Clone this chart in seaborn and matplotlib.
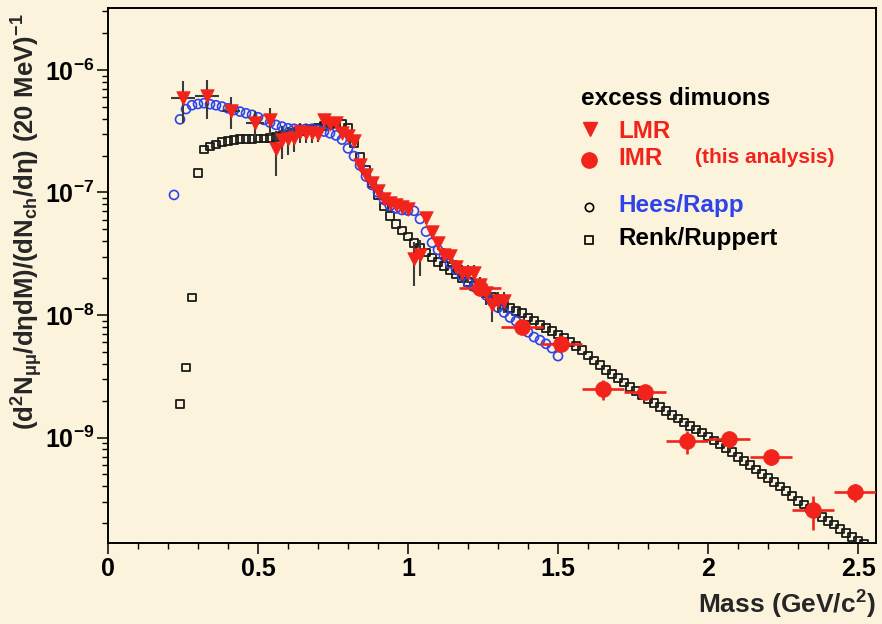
import matplotlib
matplotlib.use("Agg")
import matplotlib.pyplot as plt
import seaborn as sns
import pandas as pd
from matplotlib.ticker import FixedLocator, MultipleLocator, LogLocator, NullFormatter

# ---------------- data ----------------
lmr_mass = [0.25, 0.33, 0.41, 0.49, 0.54, 0.56, 0.58, 0.60, 0.62, 0.64, 0.66, 0.68, 0.70,
            0.72, 0.74, 0.76, 0.78, 0.80, 0.82, 0.84, 0.86, 0.88, 0.90, 0.92, 0.94, 0.96,
            0.98, 1.00, 1.02, 1.04, 1.06, 1.08, 1.10, 1.12, 1.14, 1.16, 1.18, 1.20, 1.22,
            1.24, 1.26, 1.28, 1.30, 1.32]
lmr_yield = [5.87e-7, 6.14e-7, 4.65e-7, 3.71e-7, 3.90e-7, 2.25e-7, 2.67e-7, 2.72e-7, 2.77e-7,
             3.12e-7, 3.08e-7, 3.04e-7, 3.00e-7, 3.91e-7, 3.62e-7, 3.72e-7, 3.08e-7, 2.89e-7,
             2.65e-7, 1.67e-7, 1.40e-7, 1.20e-7, 1.02e-7, 8.79e-8, 8.26e-8, 7.94e-8, 7.66e-8,
             7.30e-8, 2.84e-8, 3.10e-8, 6.17e-8, 4.79e-8, 3.85e-8, 3.09e-8, 3.03e-8, 2.48e-8,
             2.19e-8, 2.19e-8, 2.19e-8, 1.75e-8, 1.50e-8, 1.21e-8, 1.29e-8, 1.29e-8]
lmr_yerr = [2.2e-7, 2.2e-7, 1.35e-7, 0.9e-7, 1.0e-7, 0.9e-7, 0.8e-7, 0.7e-7, 0.65e-7, 0.6e-7,
            0.55e-7, 0.5e-7, 0.4e-7, 0.3e-7, 0.3e-7, 0.3e-7, 0.25e-7, 0.25e-7, 0.2e-7, 0.15e-7,
            0.12e-7, 1.0e-8, 0.9e-8, 0.8e-8, 0.8e-8, 0.8e-8, 0.8e-8, 0.8e-8, 1.1e-8, 1.0e-8,
            0.6e-8, 0.5e-8, 0.45e-8, 0.4e-8, 0.4e-8, 0.35e-8, 0.35e-8, 0.35e-8, 0.35e-8, 0.3e-8,
            0.3e-8, 0.33e-8, 0.25e-8, 0.25e-8]
lmr_xerr = [0.04, 0.04, 0.03, 0.03] + [0.0] * 40

imr_mass = [1.24, 1.38, 1.51, 1.65, 1.79, 1.93, 2.07, 2.21, 2.35, 2.49]
imr_yield = [1.65e-8, 8.0e-9, 5.83e-9, 2.49e-9, 2.37e-9, 9.35e-10, 9.7e-10, 6.9e-10, 2.56e-10, 3.6e-10]
imr_yerr = [1.5e-9, 7e-10, 5e-10, 4.5e-10, 3e-10, 2e-10, 1.5e-10, 9e-11, 8e-11, 6e-11]
imr_xerr = [0.07, 0.07, 0.07, 0.07, 0.07, 0.07, 0.07, 0.07, 0.07, 0.07]

hees_mass = [0.22, 0.24, 0.26, 0.28, 0.30, 0.32, 0.34, 0.36, 0.38, 0.40, 0.42, 0.44, 0.46,
             0.48, 0.50, 0.52, 0.54, 0.56, 0.58, 0.60, 0.62, 0.64, 0.66, 0.68, 0.70, 0.72,
             0.74, 0.76, 0.78, 0.80, 0.82, 0.84, 0.86, 0.88, 0.90, 0.92, 0.94, 0.96, 0.98,
             1.00, 1.02, 1.04, 1.06, 1.08, 1.10, 1.12, 1.14, 1.16, 1.18, 1.20, 1.22, 1.24,
             1.26, 1.28, 1.30, 1.32, 1.34, 1.36, 1.38, 1.40, 1.42, 1.44, 1.46, 1.48, 1.50]
hees_yield = [9.55e-8, 3.95e-7, 4.79e-7, 5.15e-7, 5.27e-7, 5.35e-7, 5.25e-7, 5.15e-7, 5.02e-7,
              4.86e-7, 4.71e-7, 4.57e-7, 4.43e-7, 4.30e-7, 4.11e-7, 3.91e-7, 3.72e-7, 3.56e-7,
              3.45e-7, 3.34e-7, 3.31e-7, 3.28e-7, 3.31e-7, 3.31e-7, 3.24e-7, 3.14e-7, 3.04e-7,
              2.92e-7, 2.70e-7, 2.29e-7, 1.98e-7, 1.66e-7, 1.35e-7, 1.15e-7, 1.00e-7, 8.71e-8,
              7.76e-8, 7.41e-8, 7.19e-8, 7.11e-8, 7.08e-8, 6.08e-8, 4.79e-8, 3.89e-8, 3.40e-8,
              3.02e-8, 2.64e-8, 2.34e-8, 2.09e-8, 1.84e-8, 1.70e-8, 1.58e-8, 1.45e-8, 1.29e-8,
              1.15e-8, 1.05e-8, 9.55e-9, 8.91e-9, 7.94e-9, 7.24e-9, 6.61e-9, 6.24e-9, 5.82e-9,
              5.37e-9, 4.62e-9]

renk_mass = [0.24, 0.26, 0.28, 0.30, 0.32, 0.34, 0.36, 0.38, 0.40, 0.42, 0.44, 0.46, 0.48,
             0.50, 0.52, 0.54, 0.56, 0.58, 0.60, 0.62, 0.64, 0.66, 0.68, 0.70, 0.72, 0.74,
             0.76, 0.78, 0.80, 0.82, 0.84, 0.86, 0.88, 0.90, 0.92, 0.94, 0.96, 0.98, 1.00,
             1.02, 1.04, 1.06, 1.08, 1.10, 1.12, 1.14, 1.16, 1.18, 1.20, 1.22, 1.24, 1.26,
             1.28, 1.30, 1.32, 1.34, 1.36, 1.38, 1.40, 1.42, 1.44, 1.46, 1.48, 1.50, 1.52,
             1.54, 1.56, 1.58, 1.60, 1.62, 1.64, 1.66, 1.68, 1.70, 1.72, 1.74, 1.76, 1.78,
             1.80, 1.82, 1.84, 1.86, 1.88, 1.90, 1.92, 1.94, 1.96, 1.98, 2.00, 2.02, 2.04,
             2.06, 2.08, 2.10, 2.12, 2.14, 2.16, 2.18, 2.20, 2.22, 2.24, 2.26, 2.28, 2.30,
             2.32, 2.34, 2.36, 2.38, 2.40, 2.42, 2.44, 2.46, 2.48, 2.50, 2.52, 2.54]
renk_yield = [1.87e-9, 3.74e-9, 1.39e-8, 1.44e-7, 2.25e-7, 2.37e-7, 2.47e-7, 2.57e-7, 2.63e-7, 2.69e-7,
              2.72e-7, 2.74e-7, 2.74e-7, 2.75e-7, 2.75e-7, 2.77e-7, 2.82e-7, 2.89e-7, 2.95e-7, 3.04e-7,
              3.14e-7, 3.20e-7, 3.28e-7, 3.38e-7, 3.49e-7, 3.61e-7, 3.67e-7, 3.62e-7, 3.39e-7, 2.51e-7,
              1.96e-7, 1.53e-7, 1.19e-7, 9.55e-8, 7.66e-8, 6.43e-8, 5.53e-8, 4.90e-8, 4.37e-8, 3.89e-8,
              3.55e-8, 3.24e-8, 2.95e-8, 2.72e-8, 2.51e-8, 2.33e-8, 2.16e-8, 2.00e-8, 1.86e-8, 1.72e-8,
              1.58e-8, 1.51e-8, 1.41e-8, 1.29e-8, 1.20e-8, 1.14e-8, 1.08e-8, 1.04e-8, 9.55e-9, 8.99e-9,
              8.32e-9, 7.85e-9, 7.41e-9, 6.92e-9, 6.46e-9, 6.03e-9, 5.62e-9, 5.19e-9, 4.68e-9, 4.27e-9,
              3.89e-9, 3.55e-9, 3.31e-9, 3.05e-9, 2.82e-9, 2.60e-9, 2.40e-9, 2.21e-9, 2.07e-9, 1.91e-9,
              1.78e-9, 1.65e-9, 1.53e-9, 1.43e-9, 1.33e-9, 1.24e-9, 1.16e-9, 1.10e-9, 1.02e-9, 9.44e-10,
              8.81e-10, 8.22e-10, 7.59e-10, 6.97e-10, 6.46e-10, 5.96e-10, 5.50e-10, 5.07e-10, 4.68e-10, 4.32e-10,
              3.98e-10, 3.67e-10, 3.35e-10, 3.05e-10, 2.85e-10, 2.63e-10, 2.43e-10, 2.25e-10, 2.09e-10, 1.95e-10,
              1.80e-10, 1.67e-10, 1.55e-10, 1.45e-10, 1.35e-10, 1.26e-10]

x_ticks = [0, 0.5, 1, 1.5, 2, 2.5]
x_tick_labels = ["0", "0.5", "1", "1.5", "2", "2.5"]
y_ticks = [1e-9, 1e-8, 1e-7, 1e-6]
y_tick_labels = [r"$\mathbf{10^{-9}}$", r"$\mathbf{10^{-8}}$", r"$\mathbf{10^{-7}}$", r"$\mathbf{10^{-6}}$"]

# ---------------- style ----------------
BG = "#FBF3DC"
RED = "#F2231B"
BLUE = "#2F43EA"

sns.set_theme(style="ticks")
plt.rcParams["font.family"] = ["Liberation Sans", "DejaVu Sans"]
plt.rcParams["font.weight"] = "bold"
plt.rcParams["mathtext.fontset"] = "custom"
plt.rcParams["mathtext.rm"] = "Liberation Sans:bold"
plt.rcParams["mathtext.it"] = "Liberation Sans:bold"
plt.rcParams["mathtext.bf"] = "Liberation Sans:bold"
plt.rcParams["mathtext.sf"] = "Liberation Sans:bold"

fig = plt.figure(figsize=(8.82, 6.24), dpi=100)
fig.patch.set_facecolor(BG)
ax = fig.add_axes([108 / 882, 81 / 624, 768 / 882, 535 / 624])
ax.set_facecolor(BG)
ax.set_yscale("log")

renk_df = pd.DataFrame({"mass": renk_mass, "yield": renk_yield})
hees_df = pd.DataFrame({"mass": hees_mass, "yield": hees_yield})
lmr_df = pd.DataFrame({"mass": lmr_mass, "yield": lmr_yield})
imr_df = pd.DataFrame({"mass": imr_mass, "yield": imr_yield})

sns.scatterplot(data=renk_df, x="mass", y="yield", ax=ax, marker="s", s=30,
                facecolor="none", edgecolor="#1a1a1a", linewidth=1.3, zorder=3, legend=False)
sns.scatterplot(data=hees_df, x="mass", y="yield", ax=ax, marker="o", s=42,
                facecolor="none", edgecolor=BLUE, linewidth=1.2, zorder=4, legend=False)

ax.errorbar(lmr_mass, lmr_yield, yerr=lmr_yerr, xerr=lmr_xerr, fmt="none",
            ecolor="#3a3a3a", elinewidth=1.5, capsize=0, zorder=5)
sns.scatterplot(data=lmr_df, x="mass", y="yield", ax=ax, marker="v", s=95,
                color=RED, edgecolor=RED, linewidth=0.5, zorder=6, legend=False)

ax.errorbar(imr_mass, imr_yield, yerr=imr_yerr, xerr=imr_xerr, fmt="none",
            ecolor=RED, elinewidth=1.9, capsize=0, zorder=7)
sns.scatterplot(data=imr_df, x="mass", y="yield", ax=ax, marker="o", s=130,
                color=RED, edgecolor=RED, linewidth=0.5, zorder=8, legend=False)

ax.set_xlim(0, 2.56)
ax.set_ylim(1.38e-10, 3.2e-6)

# axes / ticks
ax.xaxis.set_major_locator(FixedLocator(x_ticks))
ax.set_xticklabels(x_tick_labels)
ax.xaxis.set_minor_locator(MultipleLocator(0.1))
ax.yaxis.set_major_locator(FixedLocator(y_ticks))
ax.set_yticklabels(y_tick_labels)
ax.yaxis.set_minor_locator(LogLocator(base=10, subs=[2, 3, 4, 5, 6, 7, 8, 9], numticks=20))
ax.yaxis.set_minor_formatter(NullFormatter())
for s in ax.spines.values():
    s.set_linewidth(1.4)
    s.set_color("black")
ax.tick_params(axis="both", which="major", direction="out", length=8, width=1.1,
               colors="black", labelsize=18, pad=2)
ax.tick_params(axis="both", which="minor", direction="out", length=4.5, width=1.0, colors="black")
ax.tick_params(top=False, right=False, which="both")
for lab in ax.get_xticklabels() + ax.get_yticklabels():
    lab.set_fontweight("bold")

ax.set_xlabel(r"Mass (GeV/c$^{2}$)", fontsize=19, fontweight="bold", loc="right", labelpad=6)
ax.set_ylabel(r"$\mathbf{(d^{2}N_{\mu\mu}/d\eta dM)/(dN_{ch}/d\eta)\ (20\ MeV)^{-1}}$",
              fontsize=18.5)
ax.yaxis.set_label_coords(-0.082, 0.60)

# ---------------- legend (hand-built, as in the reference) ----------------
tr = ax.transAxes
ax.text(0.616, 0.830, "excess dimuons", transform=tr, fontsize=17.5, fontweight="bold",
        color="black", va="center", ha="left")
ax.plot([0.6276], [0.7733], marker="v", ms=10, color=RED, transform=tr, clip_on=False, ls="none")
ax.text(0.664, 0.770, "LMR", transform=tr, fontsize=17.5, fontweight="bold", color=RED,
        va="center", ha="left")
ax.plot([0.626], [0.716], marker="o", ms=11, color=RED, transform=tr, clip_on=False, ls="none")
ax.text(0.664, 0.718, "IMR", transform=tr, fontsize=17.5, fontweight="bold", color=RED,
        va="center", ha="left")
ax.text(0.764, 0.720, "(this analysis)", transform=tr, fontsize=15, fontweight="bold", color=RED,
        va="center", ha="left")
ax.plot([0.626], [0.628], marker="o", ms=6, mfc="none", mec="black", mew=1.2, transform=tr,
        clip_on=False, ls="none")
ax.text(0.664, 0.630, "Hees/Rapp", transform=tr, fontsize=17.5, fontweight="bold", color=BLUE,
        va="center", ha="left")
ax.plot([0.626], [0.566], marker="s", ms=5.5, mfc="none", mec="black", mew=1.2, transform=tr,
        clip_on=False, ls="none")
ax.text(0.664, 0.570, "Renk/Ruppert", transform=tr, fontsize=17.5, fontweight="bold", color="black",
        va="center", ha="left")

fig.savefig("out.png", dpi=100, facecolor=BG)
